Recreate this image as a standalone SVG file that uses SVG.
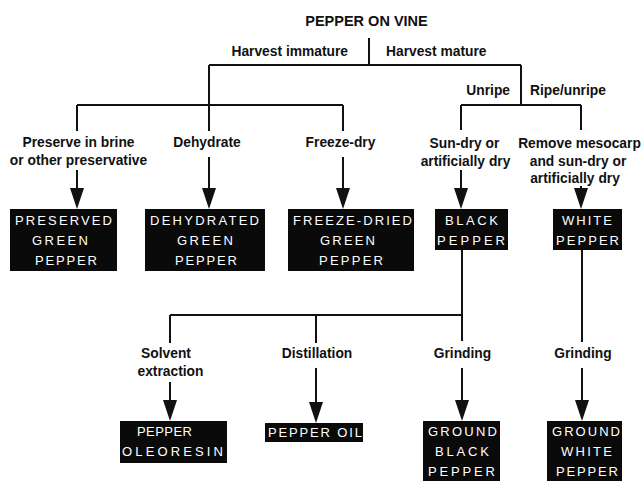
<svg xmlns="http://www.w3.org/2000/svg" width="641" height="481" viewBox="0 0 641 481">
<style>
.lbl{font-family:"Liberation Sans",Arial,sans-serif;font-size:13.8px;font-weight:bold;fill:#111;text-anchor:middle}
.ttl{font-family:"Liberation Sans",Arial,sans-serif;font-size:14.5px;font-weight:bold;fill:#111;text-anchor:middle}
.box{fill:#0a0a0a}
.bt{font-family:"Liberation Sans",Arial,sans-serif;font-size:13px;fill:#fff}
.ln{stroke:#111;stroke-width:2;fill:none}
.ar{stroke:#111;stroke-width:2;fill:none;marker-end:url(#ah)}
</style>
<defs>
<marker id="ah" viewBox="0 0 21 14" markerWidth="21" markerHeight="14" markerUnits="userSpaceOnUse" orient="auto" refX="13" refY="7">
<path d="M0,0 L21,7 L0,14 z" fill="#111"/>
</marker>
</defs>
<rect width="641" height="481" fill="#fff"/>

<g id="connectors">
<path class="ln" d="M369,38 V65 M209,65 H521 M209,65 V131 M77,105 H343 M77,105 V131 M343,105 V131 M521,65 V105 M461,105 H581 M461,105 V130 M581,105 V130"/>
<path class="ar" d="M77,170 V201"/>
<path class="ar" d="M209,157 V201"/>
<path class="ar" d="M343,157 V201"/>
<path class="ar" d="M461,170 V201"/>
<path class="ar" d="M581,186 V201"/>
<path class="ln" d="M462,250 V341 M170,315 H462 M170,315 V343 M316,315 V343 M582,250 V342"/>
<path class="ar" d="M170,382 V413"/>
<path class="ar" d="M316,368 V415"/>
<path class="ar" d="M462,368 V413"/>
<path class="ar" d="M582,368 V413"/>
</g>

<g id="labels">
<text class="ttl" x="366.5" y="26">PEPPER ON VINE</text>
<text class="lbl" x="348" y="56" style="text-anchor:end">Harvest immature</text>
<text class="lbl" x="386" y="56" style="text-anchor:start">Harvest mature</text>
<text class="lbl" x="510" y="95" style="text-anchor:end">Unripe</text>
<text class="lbl" x="530" y="95" style="text-anchor:start">Ripe/unripe</text>
<text class="lbl" x="78.5" y="147">Preserve in brine</text>
<text class="lbl" x="78.5" y="165">or other preservative</text>
<text class="lbl" x="207" y="147">Dehydrate</text>
<text class="lbl" x="340.5" y="147">Freeze-dry</text>
<text class="lbl" x="464.5" y="148">Sun-dry or</text>
<text class="lbl" x="465.5" y="166">artificially dry</text>
<text class="lbl" x="579.5" y="148">Remove mesocarp</text>
<text class="lbl" x="578" y="166">and sun-dry or</text>
<text class="lbl" x="575" y="183">artificially dry</text>
<text class="lbl" x="166" y="358">Solvent</text>
<text class="lbl" x="170.5" y="376">extraction</text>
<text class="lbl" x="317" y="358">Distillation</text>
<text class="lbl" x="462.5" y="358">Grinding</text>
<text class="lbl" x="583" y="358">Grinding</text>
</g>

<g id="preserved-green-pepper">
<rect class="box" x="10" y="209" width="107" height="62"/>
<text class="bt" x="15" y="225" textLength="97" lengthAdjust="spacing">PRESERVED</text>
<text class="bt" x="32" y="245" textLength="56" lengthAdjust="spacing">GREEN</text>
<text class="bt" x="35" y="265" textLength="62" lengthAdjust="spacing">PEPPER</text>
</g>
<g id="dehydrated-green-pepper">
<rect class="box" x="145" y="209" width="120" height="62"/>
<text class="bt" x="150" y="225" textLength="109" lengthAdjust="spacing">DEHYDRATED</text>
<text class="bt" x="177" y="245" textLength="56" lengthAdjust="spacing">GREEN</text>
<text class="bt" x="175" y="265" textLength="62" lengthAdjust="spacing">PEPPER</text>
</g>
<g id="freeze-dried-green-pepper">
<rect class="box" x="288" y="209" width="126" height="62"/>
<text class="bt" x="293" y="225" textLength="119" lengthAdjust="spacing">FREEZE-DRIED</text>
<text class="bt" x="320" y="245" textLength="55" lengthAdjust="spacing">GREEN</text>
<text class="bt" x="319" y="265" textLength="64" lengthAdjust="spacing">PEPPER</text>
</g>
<g id="black-pepper">
<rect class="box" x="435" y="209" width="73" height="41"/>
<text class="bt" x="445" y="225" textLength="53" lengthAdjust="spacing">BLACK</text>
<text class="bt" x="437" y="245" textLength="68" lengthAdjust="spacing">PEPPER</text>
</g>
<g id="white-pepper">
<rect class="box" x="553" y="209" width="69" height="41"/>
<text class="bt" x="562" y="225" textLength="50" lengthAdjust="spacing">WHITE</text>
<text class="bt" x="556" y="245" textLength="63" lengthAdjust="spacing">PEPPER</text>
</g>
<g id="pepper-oleoresin">
<rect class="box" x="120" y="421" width="107" height="42"/>
<text class="bt" x="137" y="436" textLength="55" lengthAdjust="spacing">PEPPER</text>
<text class="bt" x="122" y="456" textLength="101" lengthAdjust="spacing">OLEORESIN</text>
</g>
<g id="pepper-oil">
<rect class="box" x="265" y="423" width="98" height="19"/>
<text class="bt" x="268" y="437" textLength="94" lengthAdjust="spacing">PEPPER OIL</text>
</g>
<g id="ground-black-pepper">
<rect class="box" x="423" y="421" width="77" height="60"/>
<text class="bt" x="428" y="436" textLength="69" lengthAdjust="spacing">GROUND</text>
<text class="bt" x="435" y="456" textLength="54" lengthAdjust="spacing">BLACK</text>
<text class="bt" x="428" y="476" textLength="67" lengthAdjust="spacing">PEPPER</text>
</g>
<g id="ground-white-pepper">
<rect class="box" x="547" y="421" width="75" height="60"/>
<text class="bt" x="552" y="436" textLength="68" lengthAdjust="spacing">GROUND</text>
<text class="bt" x="561" y="456" textLength="51" lengthAdjust="spacing">WHITE</text>
<text class="bt" x="556" y="476" textLength="62" lengthAdjust="spacing">PEPPER</text>
</g>
</svg>
